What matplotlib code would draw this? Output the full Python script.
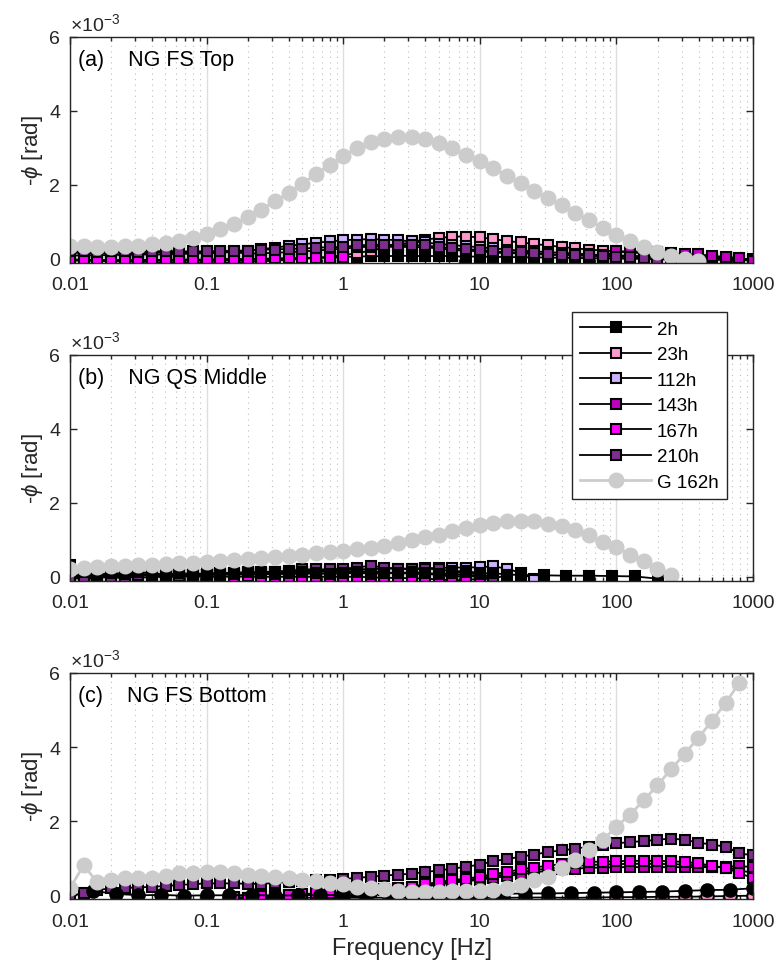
import matplotlib
matplotlib.use("Agg")
import matplotlib.pyplot as plt
import matplotlib.ticker as mticker
import numpy as np

plt.rcParams['font.family'] = ['Liberation Sans', 'DejaVu Sans']
plt.rcParams['mathtext.fontset'] = 'custom'
plt.rcParams['mathtext.rm'] = 'Liberation Sans'
plt.rcParams['mathtext.it'] = 'Liberation Sans:italic'

# frequency sweep, 10 points per decade, 0.01 .. 1000 Hz
freq = np.logspace(-2, 3, 51)
# sparse sweep (6 points per decade) used by some runs
freq6 = 10 ** (np.arange(-11, 19) / 6.0)
freq_b2h_tail = [20, 29.3, 43, 63, 93, 136, 200]

labels = ['2h', '23h', '112h', '143h', '167h', '210h', 'G 162h']
colors = ['black', (1.0, 0.6, 0.8), (0.8, 0.7, 1.0), (0.75, 0.0, 0.75),
          (1.0, 0.0, 1.0), (0.494, 0.184, 0.556)]
gray = (0.8, 0.8, 0.8)

# values in units of 1e-3 rad
# (a) NG FS Top
a_2h = [-0.02, -0.03, -0.05, -0.04, -0.05, -0.06, -0.04, -0.05, -0.05, -0.04,
        -0.06, -0.05, -0.04, -0.03, -0.02, -0.01, 0.0, 0.02, 0.03, 0.04,
        0.05, 0.06, 0.07, 0.07, 0.08, 0.08, 0.07, 0.08, 0.07, 0.06,
        0.06, 0.05, 0.05, 0.04, 0.04, 0.03, 0.03, 0.02, 0.02, 0.01,
        0.01, 0.0, 0.0, -0.01, -0.01, -0.02, -0.02, -0.03, -0.03, -0.04, -0.04]
a_23h = [-0.05, -0.05, -0.06, -0.07, -0.07, -0.08, -0.09, -0.1, -0.1, -0.11,
         -0.12, -0.11, -0.1, -0.08, -0.07, -0.05, -0.03, 0.0, 0.02, 0.05,
         0.1, 0.15, 0.22, 0.3, 0.38, 0.45, 0.52, 0.56, 0.6, 0.6,
         0.58, 0.53, 0.48, 0.44, 0.4, 0.36, 0.32, 0.28, 0.25, 0.22,
         0.2, 0.17, 0.15, 0.12, 0.1, 0.08, 0.06, 0.04, 0.02, 0.0, -0.02]
a_112h = [0.08, 0.1, 0.09, 0.11, 0.1, 0.12, 0.11, 0.12, 0.13, 0.14,
          0.15, 0.17, 0.19, 0.22, 0.26, 0.3, 0.35, 0.39, 0.43, 0.47,
          0.5, 0.52, 0.53, 0.52, 0.5, 0.47, 0.44, 0.4, 0.37, 0.34,
          0.31, 0.28, 0.25, 0.22, 0.2, 0.18, 0.16, 0.14, 0.12, 0.1,
          0.09, 0.08, 0.07, 0.06, 0.05, 0.04, 0.03, 0.02, 0.01, 0.0, -0.01]
a_143h = [0.16, 0.16, 0.15, 0.16, 0.16, 0.15, 0.16, 0.17, 0.16, 0.16,
          0.16, 0.17, 0.18, 0.14, 0.15, 0.16, 0.18, 0.2, 0.22, 0.25,
          0.27, 0.31, 0.33, 0.33, 0.32, 0.32, 0.31, 0.28, 0.24, 0.22,
          0.2, 0.17, 0.15, 0.15, 0.13, 0.11, 0.1, 0.09, 0.08, 0.07,
          0.2, 0.2, 0.19, 0.17, 0.15, 0.12, 0.12, 0.08, 0.05, 0.02, -0.05]
a_167h = [-0.03, -0.03, -0.04, -0.03, -0.04, -0.03, -0.03, -0.03, -0.02, -0.02,
          -0.02, -0.01, 0.0, -0.01, 0.0, 0.01, 0.02, 0.02, 0.03, 0.03, 0.04]
a_210h = [0.2, 0.2, 0.19, 0.2, 0.2, 0.19, 0.2, 0.21, 0.2, 0.2,
          0.2, 0.21, 0.22, 0.22, 0.25, 0.25, 0.27, 0.27, 0.3, 0.31,
          0.32, 0.36, 0.38, 0.38, 0.37, 0.37, 0.36, 0.32, 0.28, 0.26,
          0.24, 0.2, 0.18, 0.17, 0.15, 0.12, 0.11, 0.1, 0.09, 0.08,
          0.05, 0.05, 0.03, 0.0, -0.04]
a_g = [0.35, 0.34, 0.33, 0.33, 0.34, 0.35, 0.39, 0.43, 0.48, 0.56,
       0.66, 0.8, 0.95, 1.13, 1.33, 1.55, 1.78, 2.03, 2.28, 2.53,
       2.78, 2.98, 3.14, 3.24, 3.28, 3.28, 3.23, 3.13, 2.98, 2.81,
       2.63, 2.44, 2.24, 2.04, 1.84, 1.64, 1.44, 1.24, 1.04, 0.84,
       0.65, 0.48, 0.32, 0.19, 0.08, 0.0, -0.05]

# (b) NG QS Middle
b_2h = [0.33, 0.12, 0.05, 0.1, 0.08, 0.12, 0.1, 0.05, 0.1, 0.08,
        0.06, 0.1, 0.08, 0.12, 0.1, 0.08, 0.1, 0.12, 0.1, 0.08,
        0.1, 0.12, 0.08, 0.1, 0.1, 0.12, 0.1, 0.08, 0.1, 0.12,
        0.08, 0.1, 0.06]
b_2h_tail = [0.05, 0.04, 0.03, 0.03, 0.02, 0.01, -0.05]
b_23h = [0.02, 0.0, 0.02, 0.03, 0.02, 0.03, 0.04, 0.03, 0.04, 0.05,
         0.05, 0.06, 0.06, 0.07, 0.07, 0.08, 0.08, 0.08, 0.09, 0.09,
         0.1, 0.1, 0.1, 0.1, 0.1, 0.09, 0.08, 0.07, 0.06, 0.05, 0.04]
b_112h = [0.05, 0.03, 0.05, 0.06, 0.05, 0.07, 0.06, 0.07, 0.07, 0.08,
          0.09, 0.1, 0.11, 0.12, 0.13, 0.14, 0.15, 0.16, 0.17, 0.18,
          0.19, 0.2, 0.21, 0.22, 0.22, 0.22, 0.23, 0.24, 0.25, 0.25,
          0.26, 0.28, 0.22, 0.1, -0.07]
b_143h = [0.05, 0.02, 0.04, 0.05, 0.03, 0.06, 0.05, 0.05, 0.06, 0.07,
          0.08, 0.08, 0.1, 0.1, 0.11, 0.12, 0.12, 0.13, 0.14, 0.15,
          0.15, 0.15, 0.15, 0.12, 0.1, 0.1, 0.08, 0.05, 0.0, 0.02,
          0.0, -0.02]
b_167h = [0.0, -0.02, 0.0, -0.01, 0.0, -0.02, -0.01, 0.0, 0.0, 0.01,
          0.0, 0.01, 0.0, 0.01, 0.0, 0.0, 0.0, 0.0, 0.0, 0.0,
          0.0, 0.0, -0.01, -0.03, -0.03, -0.04, -0.05, -0.07, -0.1, -0.08,
          -0.06, -0.05]
b_210h = [-0.02, -0.07, -0.03, 0.0, -0.05, 0.05, 0.05, 0.02, 0.03, 0.05,
          0.06, 0.08, 0.1, 0.12, 0.12, 0.14, 0.16, 0.2, 0.2, 0.2,
          0.22, 0.25, 0.3, 0.25, 0.22, 0.2, 0.22, 0.2, 0.15, 0.15,
          0.1, -0.05, 0.05]
b_g = [0.22, 0.24, 0.26, 0.28, 0.3, 0.31, 0.33, 0.35, 0.37, 0.38,
       0.4, 0.42, 0.44, 0.47, 0.5, 0.53, 0.57, 0.6, 0.64, 0.67,
       0.7, 0.74, 0.78, 0.84, 0.91, 0.98, 1.07, 1.14, 1.23, 1.32,
       1.39, 1.45, 1.5, 1.51, 1.5, 1.42, 1.36, 1.25, 1.14, 0.94,
       0.8, 0.6, 0.42, 0.2, 0.06]

# (c) NG FS Bottom (2h, 23h on the sparse sweep; 112h-167h from 0.158 Hz)
c_2h = [0.12, 0.04, 0.0, 0.01, -0.01, 0.0, 0.0, 0.01, -0.01, 0.0,
        0.01, 0.0, 0.01, 0.02, 0.01, 0.02, 0.03, 0.03, 0.04, 0.05,
        0.05, 0.06, 0.07, 0.08, 0.09, 0.1, 0.12, 0.14, 0.15, 0.19]
c_23h = [-0.08, -0.07, -0.08, -0.06, -0.07, -0.06, -0.07, -0.06, -0.07, -0.06,
         -0.08, -0.07, -0.07, -0.06, -0.06, -0.07, -0.06, -0.05, -0.05, -0.04,
         -0.04, -0.03, -0.02, -0.01]
c_112h = [-0.06, -0.06, -0.04, -0.02, 0.0, 0.02, 0.03, 0.05, 0.07, 0.1,
          0.12, 0.15, 0.18, 0.21, 0.27, 0.32, 0.37, 0.41, 0.46, 0.52,
          0.57, 0.63, 0.68, 0.72, 0.76, 0.79, 0.82, 0.83, 0.84, 0.85,
          0.85, 0.85, 0.84, 0.83, 0.8, 0.77, 0.75, 0.68, 0.6]
c_143h = [-0.08, -0.07, -0.05, -0.03, -0.01, 0.0, 0.02, 0.04, 0.06, 0.08,
          0.1, 0.13, 0.16, 0.19, 0.24, 0.29, 0.34, 0.38, 0.42, 0.47,
          0.52, 0.57, 0.62, 0.66, 0.7, 0.72, 0.74, 0.75, 0.76, 0.76,
          0.76, 0.76, 0.76, 0.76, 0.76, 0.76, 0.77, 0.78, 0.77]
c_167h = [-0.05, -0.06, -0.03, 0.0, 0.02, 0.03, 0.05, 0.07, 0.09, 0.12,
          0.15, 0.18, 0.2, 0.23, 0.3, 0.36, 0.41, 0.45, 0.5, 0.57,
          0.63, 0.7, 0.75, 0.8, 0.84, 0.87, 0.9, 0.91, 0.92, 0.93,
          0.93, 0.93, 0.92, 0.9, 0.86, 0.8, 0.74, 0.6, 0.46]
c_210h = [0.0, 0.05, 0.14, 0.19, 0.2, 0.21, 0.23, 0.25, 0.28, 0.3,
          0.32, 0.32, 0.32, 0.31, 0.31, 0.33, 0.36, 0.38, 0.4, 0.41,
          0.44, 0.47, 0.5, 0.53, 0.56, 0.58, 0.63, 0.67, 0.72, 0.77,
          0.83, 0.92, 0.98, 1.04, 1.1, 1.17, 1.21, 1.26, 1.31, 1.37,
          1.4, 1.44, 1.46, 1.5, 1.53, 1.5, 1.42, 1.37, 1.31, 1.13, 1.08]
c_g = [0.19, 0.81, 0.35, 0.41, 0.46, 0.48, 0.48, 0.53, 0.59, 0.59,
       0.64, 0.62, 0.59, 0.56, 0.53, 0.5, 0.48, 0.41, 0.39, 0.32,
       0.3, 0.23, 0.21, 0.17, 0.12, 0.1, 0.1, 0.1, 0.11, 0.12,
       0.12, 0.14, 0.19, 0.28, 0.41, 0.5, 0.73, 0.95, 1.22, 1.49,
       1.85, 2.18, 2.56, 2.97, 3.4, 3.82, 4.25, 4.71, 5.19, 5.74]

titles = ['(a)    NG FS Top', '(b)    NG QS Middle', '(c)    NG FS Bottom']

fig = plt.figure(figsize=(7.79, 9.70), dpi=100)
W, H = 779.0, 970.0
boxes = [(37.5, 263.5), (355.5, 581.5), (674, 900)]
axes = []
for top, bot in boxes:
    ax = fig.add_axes([70 / W, 1 - bot / H, 683 / W, (bot - top) / H])
    axes.append(ax)

sq = dict(marker='s', ms=7.8, mec='black', mew=1.5, color='black', lw=1.3)
circ_g = dict(marker='o', ms=10.5, color=gray, mfc=gray, mec=gray, lw=2)
circ_k = dict(marker='o', ms=9, mec='black', mew=1.5, color='black', lw=1.3)


def square(ax, f, v, c, lab):
    return ax.plot(f[:len(v)], v, mfc=c, label=lab, **sq)[0]


# (a)
ax = axes[0]
for v, c, lab in zip([a_2h, a_23h, a_112h, a_143h, a_167h, a_210h], colors, labels):
    square(ax, freq, v, c, lab)
ax.plot(freq[:len(a_g)], a_g, label=labels[6], **circ_g)

# (b)
ax = axes[1]
handles = []
for v, c, lab in zip([b_23h, b_112h, b_143h, b_167h, b_210h], colors[1:], labels[1:6]):
    handles.append(square(ax, freq, v, c, lab))
f_b2h = np.concatenate([freq[:len(b_2h)], freq_b2h_tail])
h2 = ax.plot(f_b2h, b_2h + b_2h_tail, mfc='black', label=labels[0], **sq)[0]
hg = ax.plot(freq[:len(b_g)], b_g, label=labels[6], **circ_g)[0]
handles = [h2] + handles + [hg]

# (c)
ax = axes[2]
ax.plot(freq6[6:6 + len(c_23h)], c_23h, mfc=colors[1], **circ_k)
for v, c in zip([c_112h, c_143h, c_167h], colors[2:5]):
    ax.plot(freq[12:12 + len(v)], v, mfc=c, **sq)
ax.plot(freq[:len(c_210h)], c_210h, mfc=colors[5], **sq)
ax.plot(freq6[:len(c_2h)], c_2h, mfc='black', **circ_k)
ax.plot(freq[:len(c_g)], c_g, **circ_g)

for ax, t in zip(axes, titles):
    ax.set_xscale('log')
    ax.set_xlim(0.01, 1000)
    ax.set_ylim(-0.1, 6)
    ax.set_yticks([0, 2, 4, 6])
    ax.set_xticks([0.01, 0.1, 1, 10, 100, 1000])
    ax.xaxis.set_major_formatter(mticker.FixedFormatter(['0.01', '0.1', '1', '10', '100', '1000']))
    ax.xaxis.set_minor_locator(mticker.LogLocator(base=10, subs=np.arange(2, 10), numticks=20))
    ax.xaxis.set_minor_formatter(mticker.NullFormatter())
    ax.grid(True, which='major', axis='x', color=(0.87, 0.87, 0.87), lw=1.0, ls='-')
    ax.grid(True, which='minor', axis='x', color=(0.75, 0.75, 0.75), lw=0.8, ls=(0, (1, 4)))
    ax.set_axisbelow(True)
    ax.tick_params(which='both', direction='in', top=True, right=True,
                   labelsize=14, colors=(0.15, 0.15, 0.15), labelcolor=(0.15, 0.15, 0.15))
    ax.tick_params(axis='y', pad=7)
    ax.tick_params(axis='x', pad=10)
    ax.tick_params(which='major', length=5, width=1)
    ax.tick_params(which='minor', length=3, width=1)
    for s in ax.spines.values():
        s.set_color((0.15, 0.15, 0.15))
        s.set_linewidth(1.0)
    ax.set_ylabel(r'-$\phi$ [rad]', fontsize=16, labelpad=3, color=(0.15, 0.15, 0.15))
    ax.text(0.012, 0.9, t, transform=ax.transAxes, fontsize=15.5, va='center')
    ax.text(0.0, 1.012, r'$\times10^{-3}$', transform=ax.transAxes, fontsize=14,
            ha='left', va='bottom', color=(0.15, 0.15, 0.15))

axes[2].set_xlabel('Frequency [Hz]', fontsize=17, labelpad=5, color=(0.15, 0.15, 0.15))

leg = fig.legend(handles, labels, loc='upper left',
                 bbox_to_anchor=(572 / W, 1 - 313 / H), borderaxespad=0,
                 fontsize=13.5, handlelength=3.76, labelspacing=0.45,
                 borderpad=0.45, handletextpad=0.32, fancybox=False, framealpha=1)
leg.get_frame().set_edgecolor((0.15, 0.15, 0.15))
leg.get_frame().set_linewidth(1.0)

fig.savefig('out.png', dpi=100)
